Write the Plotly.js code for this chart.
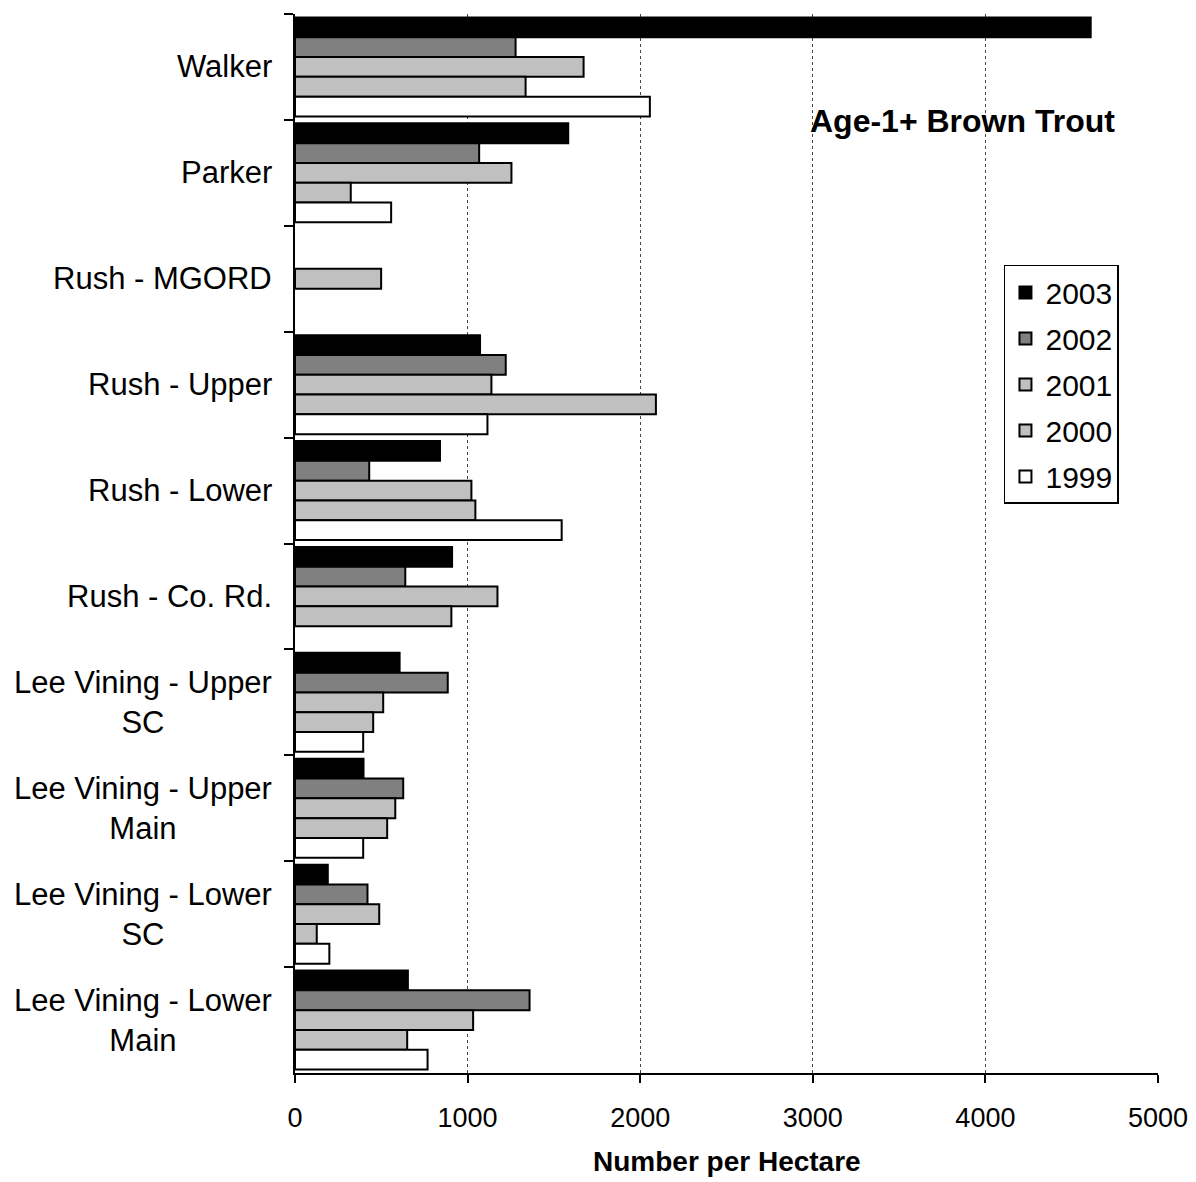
<!DOCTYPE html>
<html>
<head>
<meta charset="utf-8">
<script src="https://cdn.plot.ly/plotly-3.0.1.min.js"></script>
<style>
  html, body { margin: 0; padding: 0; background: #fff; }
  #chart { width: 1196px; height: 1182px; }
</style>
</head>
<body>
<div id="chart"></div>
<script>
// Sampling reaches, top to bottom
const reaches = [
  'Walker', 'Parker', 'Rush - MGORD', 'Rush - Upper', 'Rush - Lower',
  'Rush - Co. Rd.', 'Lee Vining - Upper SC', 'Lee Vining - Upper Main',
  'Lee Vining - Lower SC', 'Lee Vining - Lower Main'
];
// Axis labels for each reach (wrapped onto two lines where long)
const reachLabels = [
  'Walker', 'Parker', 'Rush - MGORD', 'Rush - Upper', 'Rush - Lower',
  'Rush - Co. Rd.', 'Lee Vining - Upper<br>SC', 'Lee Vining - Upper<br>Main',
  'Lee Vining - Lower<br>SC', 'Lee Vining - Lower<br>Main'
];

// Age-1+ brown trout density (number per hectare) by year
const years = ['2003', '2002', '2001', '2000', '1999'];
const d2003 = [4610, 1583, null, 1072, 840, 910, 606, 397, 190, 654];
const d2002 = [1278, 1067, null, 1221, 430, 639, 885, 627, 420, 1359];
const d2001 = [1672, 1254, 499, 1138, 1022, 1173, 511, 581, 488, 1032];
const d2000 = [1336, 323, null, 2091, 1045, 906, 453, 534, 126, 650];
const d1999 = [2056, 557, null, 1115, 1545, null, 395, 395, 199, 768];

const xTicks = [0, 1000, 2000, 3000, 4000, 5000];

const series = [d2003, d2002, d2001, d2000, d1999];
const fills = ['#000000', '#808080', '#c0c0c0', '#c0c0c0', '#ffffff'];

const FONT = 'Liberation Sans, Arial, sans-serif';

const traces = series.map((vals, i) => ({
  type: 'bar',
  orientation: 'h',
  name: years[i],
  y: reaches,
  x: vals,
  legendgroup: years[i],
  marker: { color: fills[i], line: { color: '#000000', width: 2 } },
  hoverinfo: 'x+name'
}));

// Reach names drawn beside the category axis, centred line by line
const labelAnnotations = reaches.map((r, i) => ({
  xref: 'paper', yref: 'y',
  x: 0, y: r,
  xanchor: 'right', yanchor: 'middle',
  xshift: -21,
  text: reachLabels[i],
  align: 'center',
  showarrow: false,
  font: { family: FONT, size: 31, color: '#000' }
}));

const layout = {
  width: 1196,
  height: 1182,
  margin: { l: 295, r: 38, t: 14, b: 109 },
  paper_bgcolor: '#ffffff',
  plot_bgcolor: '#ffffff',
  barmode: 'group',
  bargap: 0.065,
  bargroupgap: 0,
  font: { family: FONT, color: '#000' },
  showlegend: true,
  legend: {
    x: 0.8215, y: 0.763, xanchor: 'left', yanchor: 'top',
    bgcolor: '#ffffff', bordercolor: '#000000', borderwidth: 1.5,
    font: { family: FONT, size: 30, color: '#000' },
    traceorder: 'grouped',
    tracegroupgap: 4
  },
  xaxis: {
    range: [0, 5000],
    tickvals: xTicks,
    ticktext: xTicks.map(String),
    ticks: 'outside', ticklen: 8, tickwidth: 2, tickcolor: '#000',
    ticklabelstandoff: 12,
    tickfont: { family: FONT, size: 27, color: '#000' },
    showline: true, linecolor: '#000', linewidth: 2,
    showgrid: true, gridcolor: '#444444', gridwidth: 1, griddash: 'dot',
    zeroline: false
  },
  yaxis: {
    type: 'category',
    autorange: 'reversed',
    showticklabels: false,
    ticks: 'outside', ticklen: 9, tickwidth: 2, tickcolor: '#000',
    tickson: 'boundaries',
    showline: true, linecolor: '#000', linewidth: 2,
    showgrid: false, zeroline: false
  },
  annotations: labelAnnotations.concat([
    {
      // chart heading inside the plot area
      xref: 'paper', yref: 'paper',
      x: (962 - 295) / 863, y: (1073 - 121) / 1059,
      xanchor: 'center', yanchor: 'middle',
      text: '<b>Age-1+ Brown Trout</b>',
      showarrow: false,
      font: { family: FONT, size: 32, color: '#000' }
    },
    {
      // x-axis title below the tick labels
      xref: 'paper', yref: 'paper',
      x: 0.5, y: 0, yshift: -88,
      xanchor: 'center', yanchor: 'middle',
      text: '<b>Number per Hectare</b>',
      showarrow: false,
      font: { family: FONT, size: 28, color: '#000' }
    }
  ])
};

Plotly.newPlot('chart', traces, layout, { displayModeBar: false, staticPlot: true });
</script>
</body>
</html>
